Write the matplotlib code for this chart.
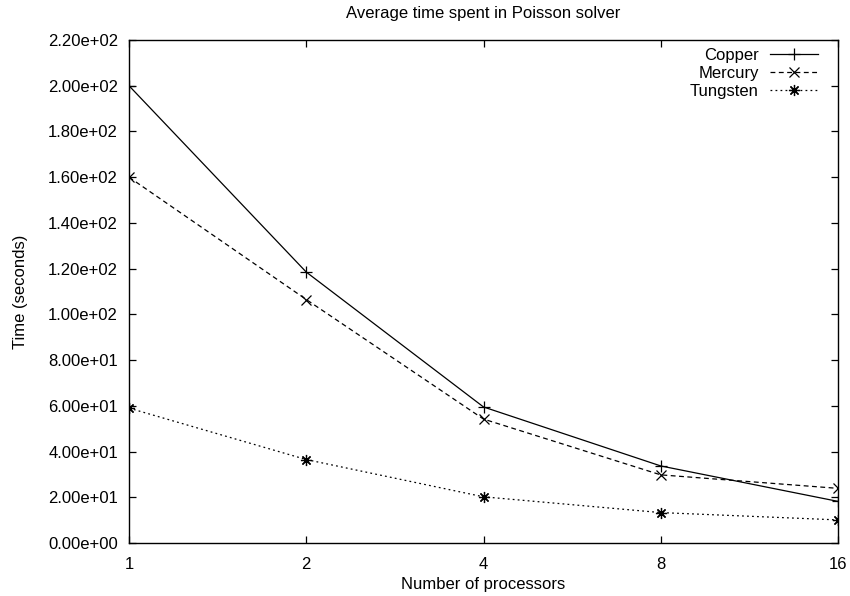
import matplotlib
matplotlib.use("Agg")
import matplotlib.pyplot as plt
from matplotlib.ticker import FuncFormatter, FixedLocator, NullLocator

plt.rcParams['font.family'] = ['Liberation Sans', 'DejaVu Sans']
plt.rcParams['lines.scale_dashes'] = False

processors = [1, 2, 4, 8, 16]
copper = [200.0, 118.5, 59.5, 33.7, 18.2]
mercury = [160.0, 106.5, 54.2, 29.8, 23.9]
tungsten = [59.0, 36.5, 20.2, 13.3, 10.1]
y_ticks = [0, 20, 40, 60, 80, 100, 120, 140, 160, 180, 200, 220]

FS = 12

fig = plt.figure(figsize=(8.5, 5.96), dpi=100)
ax = fig.add_axes([129 / 850, 1 - 543 / 596, (838 - 129) / 850, (543 - 40) / 596])

lw = 0.9
ax.plot(processors, copper, color='black', lw=lw, linestyle='-',
        marker='+', markersize=8, markeredgewidth=0.9, label='Copper')
ax.plot(processors, mercury, color='black', lw=lw, linestyle=(0, (3.5, 2.5)),
        marker='x', markersize=6.5, markeredgewidth=0.9, label='Mercury')
ax.plot(processors, tungsten, color='black', lw=lw, linestyle=(0, (1.3, 2.3)),
        marker=(8, 2, 0), markersize=8, markeredgewidth=0.9, label='Tungsten')

ax.set_xscale('log', base=2)
ax.set_xlim(1, 16)
ax.xaxis.set_major_locator(FixedLocator(processors))
ax.xaxis.set_minor_locator(NullLocator())
ax.xaxis.set_major_formatter(FuncFormatter(lambda v, p: f"{int(round(v))}"))

ax.set_ylim(0, 220)
ax.yaxis.set_major_locator(FixedLocator(y_ticks))
ax.yaxis.set_major_formatter(FuncFormatter(lambda v, p: f"{v:.2e}"))

ax.tick_params(axis='both', which='major', direction='in', length=5, width=0.9,
               top=True, right=True, labelsize=FS, pad=8)
ax.tick_params(axis='x', pad=10)
for s in ax.spines.values():
    s.set_linewidth(1.0)

ax.set_title('Average time spent in Poisson solver', fontsize=FS, pad=16)
ax.set_xlabel('Number of processors', fontsize=FS, labelpad=4)
ax.set_ylabel('Time (seconds)', fontsize=FS, labelpad=14.5)

leg = ax.legend(loc='upper right', bbox_to_anchor=(0.981, 0.997),
                markerfirst=False, frameon=False, fontsize=FS,
                handlelength=2.9, handletextpad=0.65, labelspacing=0.18,
                borderaxespad=0.0, borderpad=0.4)

fig.savefig('out.png', dpi=100)
